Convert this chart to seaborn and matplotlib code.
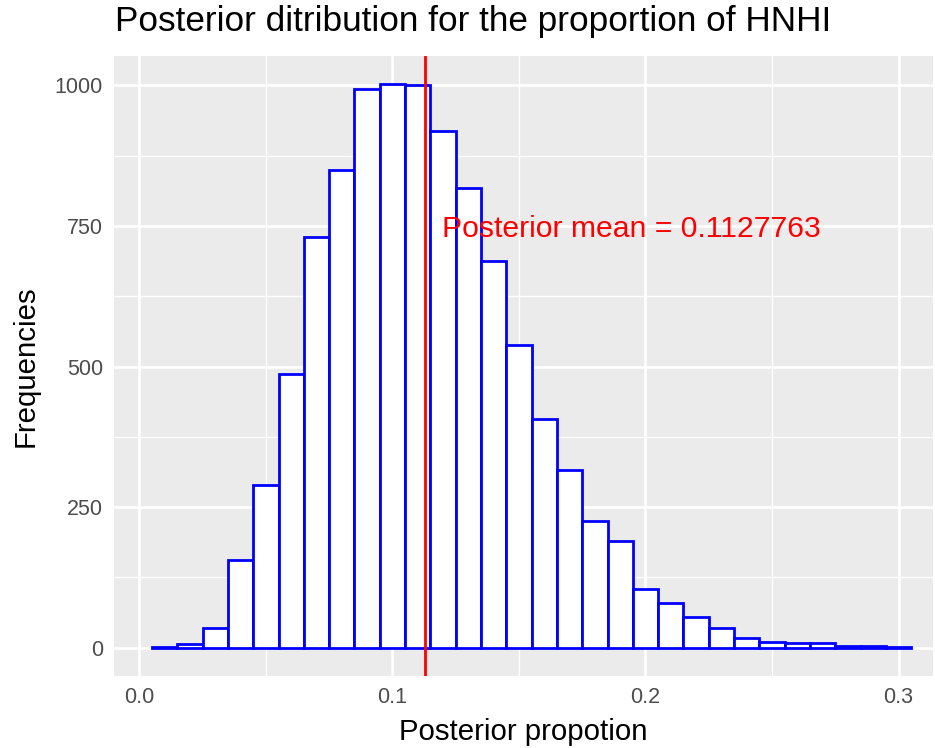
import numpy as np
import pandas as pd
import matplotlib
matplotlib.use("Agg")
import matplotlib.pyplot as plt
import seaborn as sns

# Posterior draws summarised as a histogram (bin width 0.01)
bin_centers = [0.01, 0.02, 0.03, 0.04, 0.05, 0.06, 0.07, 0.08, 0.09, 0.10,
               0.11, 0.12, 0.13, 0.14, 0.15, 0.16, 0.17, 0.18, 0.19, 0.20,
               0.21, 0.22, 0.23, 0.24, 0.25, 0.26, 0.27, 0.28, 0.29, 0.30]
frequencies = [1, 6, 35, 156, 289, 487, 730, 850, 994, 1002,
               1001, 919, 818, 687, 539, 406, 316, 225, 190, 104,
               79, 55, 35, 18, 11, 9, 8, 4, 3, 1]
posterior_mean = 0.1127763

title = "Posterior ditribution for the proportion of HNHI"
x_label = "Posterior propotion"
y_label = "Frequencies"
x_ticks = [0.0, 0.1, 0.2, 0.3]
x_tick_labels = ["0.0", "0.1", "0.2", "0.3"]
y_ticks = [0, 250, 500, 750, 1000]
y_tick_labels = ["0", "250", "500", "750", "1000"]

df = pd.DataFrame({"proportion": bin_centers, "count": frequencies})

sns.set_theme(style="darkgrid")
plt.rcParams["font.family"] = ["Liberation Sans", "DejaVu Sans"]

fig = plt.figure(figsize=(9.35, 7.48), dpi=100)
ax = fig.add_axes([114 / 935, 1 - 676 / 748, (933 - 114) / 935, (676 - 56) / 748])
ax.set_facecolor("#EBEBEB")
ax.set_axisbelow(True)

sns.histplot(data=df, x="proportion", weights="count", binwidth=0.01,
             binrange=(0.005, 0.305), stat="count", color="white",
             edgecolor="blue", linewidth=2.0, alpha=1, ax=ax)

ax.axvline(posterior_mean, color="red", linewidth=2.0)
ax.text(0.1943, 745, f"Posterior mean = {posterior_mean}", color="red",
        fontsize=21.7, ha="center", va="center")

ax.set_xlim(-0.0100, 0.3136)
ax.set_ylim(-50.1, 1052)

ax.set_xticks(x_ticks)
ax.set_xticklabels(x_tick_labels)
ax.set_yticks(y_ticks)
ax.set_yticklabels(y_tick_labels)
ax.set_xticks([0.05, 0.15, 0.25], minor=True)
ax.set_yticks([125, 375, 625, 875], minor=True)

ax.grid(which="major", color="white", linewidth=1.9)
ax.grid(which="minor", color="white", linewidth=0.95)
ax.tick_params(which="major", length=5, width=1.1, color="#333333",
               labelsize=15.5, labelcolor="#4D4D4D", pad=3)
ax.tick_params(which="minor", length=0)
for s in ax.spines.values():
    s.set_visible(False)

ax.set_xlabel(x_label, fontsize=21.2, color="black", labelpad=7)
ax.set_ylabel(y_label, fontsize=21.2, color="black", labelpad=11)

fig.text(115 / 935, 1 - 21 / 748, title, fontsize=25.3, ha="left", va="center",
         color="black")

fig.savefig("out.png", dpi=100)
